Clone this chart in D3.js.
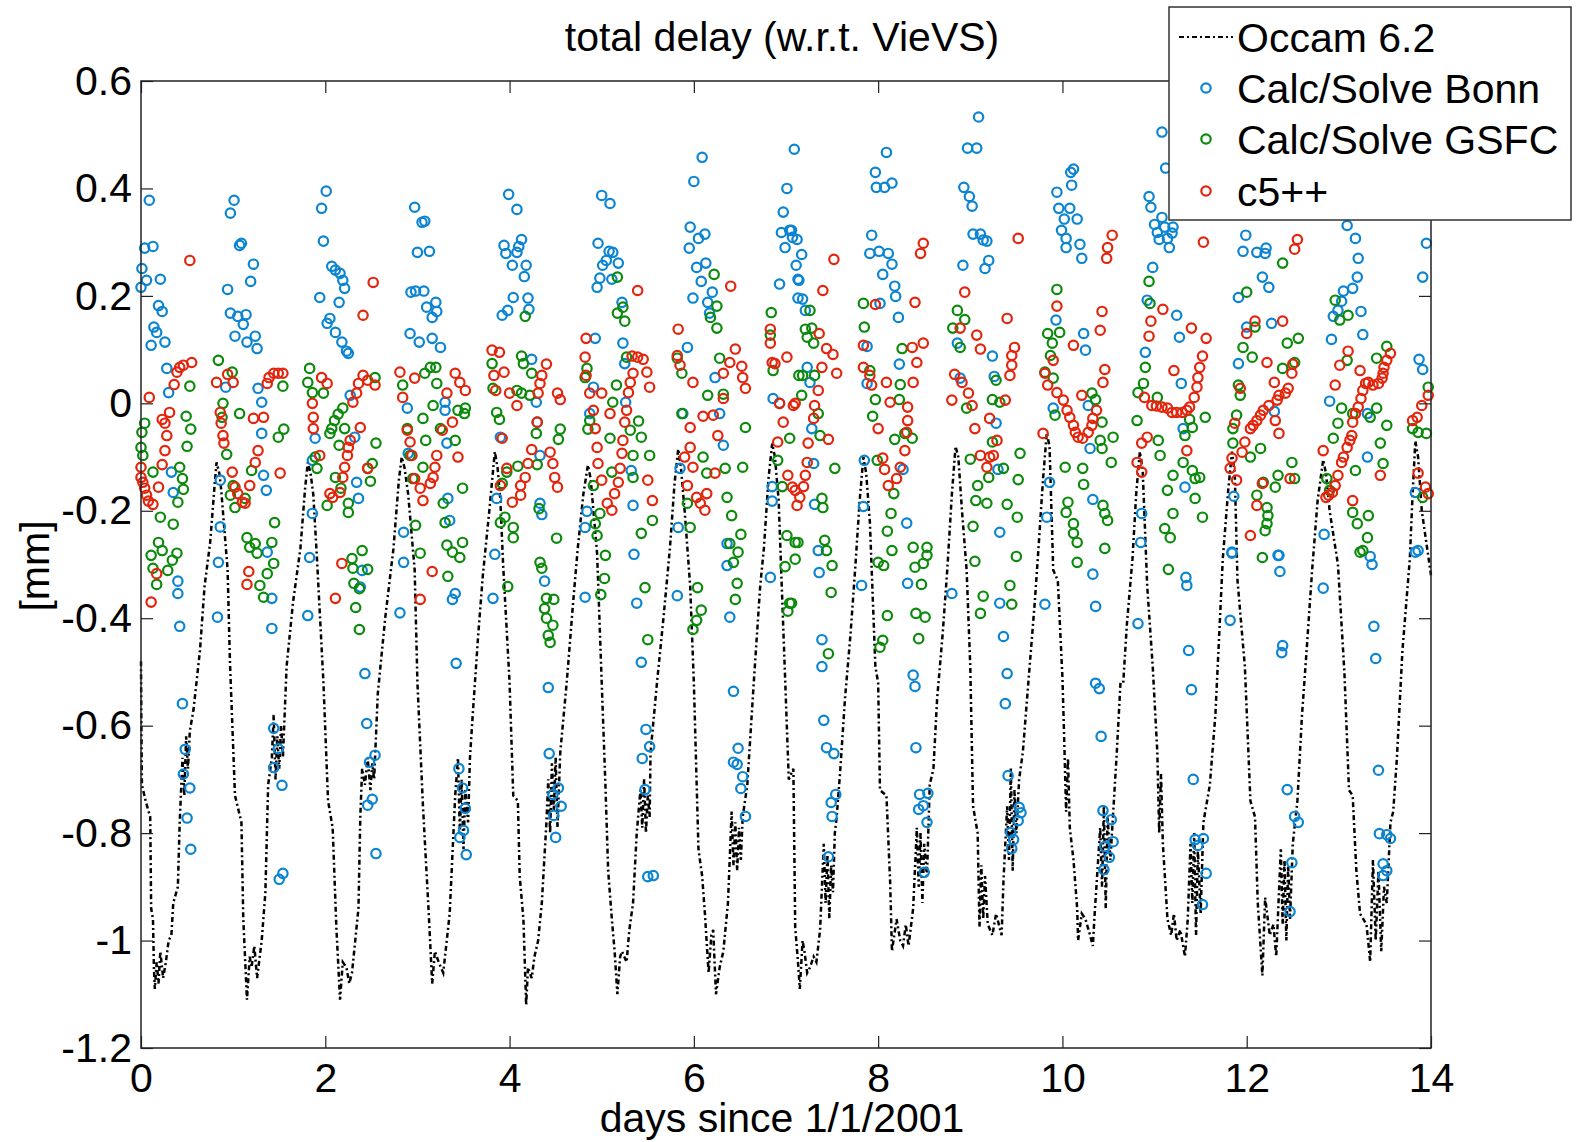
<!DOCTYPE html>
<html>
<head>
<meta charset="utf-8">
<script src="https://cdn.jsdelivr.net/npm/d3@7"></script>
<style>
  body { margin: 0; background: #fff; }
  text { font-family: "Liberation Sans", Arial, sans-serif; fill: #000; }
</style>
</head>
<body>
<div id="chart"></div>
<script>
// Occam 6.2 difference, [days since 1/1/2001, mm]
const occam = [
  [0,-0.48],[0.005,-0.62],[0.01,-0.71],[0.05,-0.74],[0.1,-0.77],[0.11,-0.94],[0.13,-0.96],[0.14,-1.05],[0.15,-1.09],[0.17,-1.04],[0.19,-1.08],[0.21,-1.02],[0.24,-1.07],[0.27,-1.04],[0.3,-1.0],[0.33,-0.99],[0.35,-0.93],[0.4,-0.9],[0.42,-0.78],[0.44,-0.70],[0.45,-0.66],[0.47,-0.73],[0.49,-0.62],[0.51,-0.68],[0.53,-0.61],[0.55,-0.59],[0.57,-0.57],[0.64,-0.46],[0.69,-0.34],[0.75,-0.26],[0.8,-0.15],[0.82,-0.11],[0.85,-0.13],[0.87,-0.16],
  [0.94,-0.31],[0.965,-0.48],[1.02,-0.73],[1.09,-0.78],[1.11,-0.96],[1.15,-1.11],[1.18,-1.03],[1.2,-1.05],[1.23,-1.01],[1.26,-1.07],[1.31,-1.0],[1.35,-0.91],[1.38,-0.71],[1.42,-0.66],[1.44,-0.58],[1.46,-0.70],[1.48,-0.62],[1.5,-0.68],[1.52,-0.60],[1.54,-0.66],[1.58,-0.49],[1.65,-0.37],[1.73,-0.27],[1.78,-0.16],[1.81,-0.11],[1.84,-0.13],[1.87,-0.17],
  [1.91,-0.29],[1.98,-0.52],[2.03,-0.74],[2.08,-0.79],[2.12,-0.975],[2.16,-1.11],[2.19,-1.04],[2.23,-1.05],[2.26,-1.08],[2.29,-1.06],[2.36,-0.94],[2.38,-0.77],[2.4,-0.68],[2.43,-0.71],[2.46,-0.66],[2.49,-0.72],[2.51,-0.67],[2.53,-0.70],[2.57,-0.54],[2.65,-0.40],[2.74,-0.27],[2.8,-0.14],[2.83,-0.10],[2.86,-0.12],[2.9,-0.17],
  [2.97,-0.31],[3.0,-0.52],[3.06,-0.75],[3.12,-0.94],[3.16,-1.08],[3.19,-1.02],[3.23,-1.04],[3.28,-1.06],[3.35,-0.95],[3.41,-0.73],[3.44,-0.66],[3.46,-0.80],[3.48,-0.70],[3.5,-0.83],[3.52,-0.72],[3.55,-0.78],[3.57,-0.66],[3.6,-0.58],[3.66,-0.43],[3.71,-0.32],[3.78,-0.2],[3.84,-0.09],[3.87,-0.12],[3.9,-0.18],
  [3.93,-0.30],[4.0,-0.52],[4.04,-0.73],[4.09,-0.74],[4.11,-0.88],[4.15,-0.96],[4.18,-1.12],[4.2,-1.05],[4.24,-1.07],[4.27,-1.03],[4.31,-1.0],[4.35,-0.93],[4.4,-0.78],[4.42,-0.70],[4.44,-0.80],[4.46,-0.67],[4.48,-0.76],[4.5,-0.66],[4.52,-0.79],[4.55,-0.65],[4.62,-0.52],[4.69,-0.37],[4.74,-0.27],[4.8,-0.17],[4.85,-0.115],[4.88,-0.14],[4.91,-0.2],
  [4.95,-0.28],[5.0,-0.52],[5.04,-0.71],[5.07,-0.87],[5.11,-0.96],[5.14,-1.02],[5.17,-1.10],[5.2,-1.03],[5.22,-1.02],[5.27,-1.04],[5.3,-0.98],[5.34,-0.93],[5.38,-0.80],[5.42,-0.72],[5.44,-0.79],[5.46,-0.70],[5.48,-0.80],[5.5,-0.73],[5.52,-0.77],[5.53,-0.65],[5.6,-0.52],[5.67,-0.40],[5.74,-0.27],[5.79,-0.15],[5.83,-0.085],[5.86,-0.12],[5.9,-0.2],
  [5.96,-0.34],[6.0,-0.52],[6.05,-0.83],[6.09,-0.88],[6.12,-0.95],[6.16,-1.06],[6.19,-0.99],[6.21,-0.98],[6.24,-1.10],[6.28,-1.05],[6.32,-1.02],[6.37,-0.93],[6.41,-0.76],[6.43,-0.86],[6.45,-0.78],[6.47,-0.87],[6.49,-0.79],[6.51,-0.85],[6.53,-0.77],[6.58,-0.71],[6.65,-0.52],[6.72,-0.34],[6.76,-0.27],[6.81,-0.14],[6.85,-0.075],[6.88,-0.1],[6.92,-0.18],
  [6.99,-0.51],[7.03,-0.70],[7.08,-0.68],[7.1,-0.975],[7.13,-1.04],[7.15,-1.09],[7.18,-1.0],[7.2,-1.02],[7.23,-1.06],[7.26,-1.05],[7.3,-1.03],[7.33,-1.04],[7.37,-0.98],[7.41,-0.82],[7.43,-0.93],[7.45,-0.84],[7.47,-0.96],[7.49,-0.86],[7.51,-0.91],[7.53,-0.80],[7.55,-0.77],[7.59,-0.68],[7.64,-0.55],[7.7,-0.43],[7.75,-0.31],[7.8,-0.18],[7.84,-0.10],[7.87,-0.13],[7.91,-0.22],
  [7.97,-0.49],[8.0,-0.52],[8.02,-0.72],[8.09,-0.73],[8.13,-0.89],[8.15,-1.02],[8.2,-0.96],[8.24,-1.0],[8.27,-1.01],[8.3,-0.97],[8.33,-1.01],[8.38,-0.94],[8.42,-0.79],[8.44,-0.90],[8.46,-0.80],[8.48,-0.93],[8.5,-0.82],[8.53,-0.88],[8.56,-0.71],[8.6,-0.68],[8.64,-0.55],[8.7,-0.43],[8.75,-0.31],[8.8,-0.17],[8.84,-0.08],[8.87,-0.1],[8.91,-0.2],
  [8.96,-0.31],[9.0,-0.49],[9.03,-0.75],[9.08,-0.80],[9.1,-0.975],[9.12,-0.86],[9.14,-0.96],[9.16,-0.88],[9.19,-0.97],[9.24,-0.99],[9.28,-0.95],[9.34,-0.99],[9.36,-0.89],[9.4,-0.75],[9.42,-0.85],[9.44,-0.68],[9.46,-0.87],[9.48,-0.72],[9.5,-0.80],[9.53,-0.70],[9.57,-0.65],[9.63,-0.52],[9.7,-0.37],[9.74,-0.27],[9.79,-0.14],[9.83,-0.055],[9.86,-0.08],
  [9.9,-0.31],[9.95,-0.33],[10.0,-0.51],[10.02,-0.63],[10.04,-0.76],[10.06,-0.66],[10.08,-0.79],[10.12,-0.85],[10.16,-0.94],[10.17,-1.0],[10.21,-0.95],[10.25,-0.96],[10.3,-0.99],[10.33,-1.01],[10.35,-0.95],[10.41,-0.79],[10.43,-0.90],[10.45,-0.75],[10.47,-0.94],[10.49,-0.77],[10.52,-0.85],[10.59,-0.65],[10.63,-0.52],[10.66,-0.52],[10.7,-0.41],[10.76,-0.29],[10.8,-0.17],[10.84,-0.09],[10.87,-0.12],
  [10.92,-0.34],[10.98,-0.49],[11.03,-0.65],[11.05,-0.80],[11.07,-0.69],[11.09,-0.82],[11.14,-0.96],[11.18,-0.99],[11.21,-0.95],[11.24,-1.0],[11.28,-0.98],[11.33,-1.03],[11.36,-0.96],[11.39,-0.82],[11.41,-0.93],[11.43,-0.80],[11.45,-0.99],[11.47,-0.83],[11.5,-0.95],[11.53,-0.78],[11.6,-0.71],[11.66,-0.58],[11.71,-0.40],[11.74,-0.29],[11.8,-0.16],[11.84,-0.09],[11.87,-0.13],
  [11.9,-0.33],[11.98,-0.49],[12.04,-0.74],[12.09,-0.77],[12.12,-0.93],[12.17,-1.065],[12.2,-0.92],[12.25,-0.99],[12.29,-0.97],[12.32,-1.03],[12.37,-0.83],[12.39,-0.97],[12.41,-0.85],[12.43,-1.0],[12.45,-0.86],[12.47,-0.96],[12.5,-0.82],[12.55,-0.74],[12.6,-0.58],[12.65,-0.46],[12.71,-0.31],[12.77,-0.18],[12.83,-0.105],[12.86,-0.13],[12.9,-0.2],
  [12.99,-0.30],[13.06,-0.50],[13.11,-0.72],[13.15,-0.73],[13.19,-0.87],[13.23,-0.95],[13.3,-0.97],[13.34,-1.04],[13.37,-0.85],[13.4,-1.0],[13.43,-0.87],[13.46,-1.02],[13.49,-0.90],[13.52,-0.93],[13.56,-0.78],[13.59,-0.76],[13.63,-0.66],[13.69,-0.46],[13.77,-0.29],[13.8,-0.17],[13.83,-0.07],[13.86,-0.1],[13.9,-0.2],[14.0,-0.32]
];

// Calc/Solve Bonn
const bonn = [
  [0.09,0.378],[0.04,0.289],[0.13,0.292],[0.01,0.251],[0.06,0.229],[0.0,0.216],[0.21,0.231],[0.19,0.182],[0.23,0.171],[0.14,0.142],[0.17,0.132],[0.11,0.108],[0.26,0.114],[0.28,0.065],[0.30,0.02],[0.33,-0.128],[0.35,-0.166],
  [1.01,0.378],[0.97,0.354],[1.07,0.294],[1.09,0.298],[1.22,0.259],[1.19,0.227],[0.94,0.212],[0.97,0.168],[1.05,0.162],[1.14,0.165],[1.11,0.147],[1.02,0.125],[1.24,0.125],[1.15,0.114],[1.26,0.102],[0.92,0.03],[1.27,0.028],[1.31,0.002],[1.31,-0.056],[1.33,-0.134],[1.36,-0.162],[0.86,-0.143],
  [2.01,0.395],[1.96,0.363],[1.98,0.302],[2.07,0.255],[2.11,0.248],[2.16,0.242],[2.19,0.229],[2.21,0.214],[1.94,0.197],[2.15,0.188],[2.05,0.158],[2.02,0.149],[2.11,0.132],[2.18,0.114],[2.23,0.097],[2.25,0.093],[2.27,0.015],[2.32,-0.063],[2.34,-0.147],[2.36,-0.177],[1.86,-0.205],[1.89,-0.065],[1.86,-0.106],
  [2.97,0.365],[3.05,0.337],[3.08,0.339],[3.0,0.281],[3.13,0.283],[2.93,0.207],[2.98,0.209],[3.07,0.209],[3.2,0.188],[3.1,0.179],[3.21,0.171],[3.16,0.16],[2.92,0.13],[3.02,0.114],[3.16,0.121],[3.25,0.104],[2.90,-0.093],[2.89,-0.009],[3.30,0.002],[3.30,-0.013],[3.32,-0.074],[3.33,-0.177],[3.35,-0.218],[0.86,-0.23],[2.85,-0.24],
  [0.84,-0.296],[0.83,-0.398],[0.42,-0.415],[0.40,-0.331],[0.40,-0.354],[0.45,-0.559],[0.48,-0.644],[0.46,-0.69],[0.53,-0.716],[0.50,-0.772],[0.54,-0.83],
  [1.42,-0.363],[1.42,-0.419],[1.37,-0.277],[1.44,-0.605],[1.49,-0.643],[1.44,-0.678],[1.53,-0.711],[1.50,-0.886],[1.54,-0.875],[1.83,-0.287],[1.81,-0.395],
  [2.43,-0.503],[2.38,-0.342],[2.45,-0.596],[2.54,-0.655],[2.48,-0.668],[2.51,-0.737],[2.46,-0.748],[2.55,-0.838],[2.85,-0.296],[2.81,-0.39],[2.40,-0.311],
  [3.41,-0.354],[3.38,-0.365],[3.42,-0.484],[3.45,-0.68],[3.49,-0.716],[3.52,-0.754],[3.5,-0.795],[3.46,-0.808],[3.53,-0.84],
  [3.99,0.389],[4.08,0.361],[4.13,0.305],[3.94,0.294],[4.10,0.292],[3.96,0.279],[4.08,0.281],[4.03,0.257],[4.18,0.257],[4.16,0.236],[4.04,0.197],[4.20,0.196],[3.98,0.173],[3.92,0.164],[4.21,0.175],[4.24,0.082],[4.29,0.002],[4.30,-0.035],[3.90,-0.063],[4.33,-0.097],[3.86,-0.177],[4.33,-0.186],[4.35,-0.207],
  [5.00,0.387],[5.09,0.372],[4.96,0.298],[5.08,0.283],[5.12,0.281],[5.05,0.266],[5.18,0.261],[5.01,0.257],[5.11,0.231],[4.98,0.233],[4.95,0.216],[5.22,0.188],[5.23,0.112],[5.25,0.074],[4.93,0.121],[5.26,0.002],[4.91,0.03],[4.87,-0.019],[5.32,-0.125],[5.34,-0.19],[4.84,-0.201],[4.82,-0.231],
  [6.09,0.458],[6.00,0.413],[5.96,0.328],[6.12,0.315],[6.05,0.307],[5.95,0.289],[6.13,0.261],[6.03,0.253],[6.08,0.227],[6.20,0.207],[5.99,0.196],[6.15,0.188],[6.17,0.168],[5.93,0.104],[6.23,0.048],[5.88,-0.019],[6.28,-0.019],[6.32,-0.078],[5.85,-0.121],[5.83,-0.231],[6.36,-0.261],
  [7.09,0.473],[7.01,0.40],[6.97,0.356],[6.95,0.318],[7.04,0.322],[7.07,0.309],[6.99,0.29],[7.11,0.257],[7.13,0.231],[6.93,0.222],[7.13,0.196],[6.86,0.009],[6.93,0.0],[6.85,-0.155],[6.85,-0.182],
  [3.84,-0.281],[3.82,-0.363],[4.38,-0.331],[4.42,-0.529],[4.43,-0.652],[4.53,-0.716],[4.47,-0.728],[4.56,-0.75],[4.48,-0.767],[4.50,-0.808],[4.82,-0.361],[5.35,-0.281],[5.38,-0.372],[5.43,-0.482],[5.48,-0.607],[5.52,-0.639],[5.44,-0.661],[5.47,-0.719],[5.50,-0.881],[5.56,-0.879],[5.82,-0.358],[6.36,-0.302],[6.39,-0.398],[6.43,-0.536],[6.48,-0.642],[6.43,-0.668],[6.47,-0.672],[6.53,-0.695],[6.51,-0.717],[6.56,-0.769],[6.83,-0.324],
  [8.09,0.467],[7.97,0.43],[7.98,0.402],[8.07,0.402],[8.15,0.41],[7.93,0.313],[7.91,0.279],[8.01,0.283],[8.11,0.279],[8.15,0.259],[8.05,0.24],[8.18,0.218],[8.19,0.199],[8.02,0.186],[8.22,0.16],[7.06,0.322],[7.12,0.305],[7.17,0.277],[7.14,0.229],[7.18,0.194],[7.21,0.173],[7.23,0.067],[7.26,0.039],[7.28,-0.047],[7.30,-0.112],[7.31,-0.188],[7.88,0.106],[7.88,0.037],[8.23,0.073],[8.27,-0.123],[7.85,-0.106],[7.84,-0.192],[8.31,-0.223],
  [9.09,0.533],[8.97,0.475],[9.07,0.475],[8.93,0.402],[8.99,0.385],[9.02,0.367],[9.03,0.315],[9.11,0.315],[9.14,0.304],[9.18,0.302],[9.20,0.266],[8.92,0.257],[9.16,0.251],[9.24,0.088],[9.26,0.05],[8.89,0.047],[9.28,-0.037],[9.30,-0.123],[9.32,-0.24],[8.86,0.112],
  [10.12,0.436],[10.09,0.43],[10.10,0.406],[9.94,0.393],[9.96,0.363],[10.08,0.363],[10.02,0.343],[10.16,0.343],[9.99,0.322],[10.04,0.307],[10.04,0.29],[10.19,0.296],[10.21,0.27],[9.93,0.155],[10.23,0.13],[10.25,0.099],[9.90,-0.009],[10.28,-0.004],[10.30,-0.084],[9.86,-0.147],[10.33,-0.179],[9.83,-0.212],
  [7.35,-0.274],[7.36,-0.315],[7.82,-0.339],[7.39,-0.44],[7.39,-0.49],[7.41,-0.59],[7.44,-0.641],[7.52,-0.652],[7.54,-0.728],[7.49,-0.743],[7.50,-0.769],[7.46,-0.844],[8.32,-0.335],[8.80,-0.354],[8.38,-0.506],[8.40,-0.527],[8.41,-0.641],[8.45,-0.728],[8.54,-0.726],[8.49,-0.749],[8.44,-0.756],[8.53,-0.78],[8.50,-0.873],
  [9.32,-0.372],[9.36,-0.434],[9.40,-0.503],[9.38,-0.559],[9.41,-0.693],[9.53,-0.752],[9.55,-0.762],[9.52,-0.777],[9.44,-0.799],[9.47,-0.812],[9.45,-0.829],[9.81,-0.374],[10.33,-0.318],[10.36,-0.378],[10.36,-0.521],[10.40,-0.531],[10.42,-0.62],[10.44,-0.758],[10.53,-0.775],[10.55,-0.816],[10.46,-0.825],[10.51,-0.845],[10.45,-0.868],
  [11.08,0.505],[11.12,0.438],[10.94,0.385],[10.96,0.365],[11.08,0.346],[11.0,0.333],[11.11,0.328],[11.20,0.328],[11.03,0.318],[11.19,0.317],[11.05,0.305],[11.14,0.307],[11.16,0.29],[10.98,0.253],[10.92,0.192],[11.24,0.164],[11.27,0.123],[10.90,0.095],[11.29,0.037],[11.31,-0.047],[11.33,-0.156],[10.86,-0.205],[10.85,-0.259],
  [11.99,0.313],[11.96,0.283],[12.11,0.281],[12.21,0.289],[12.20,0.279],[12.17,0.235],[12.24,0.216],[11.91,0.197],[12.27,0.149],[11.91,0.074],[12.00,0.142],[12.30,-0.015],[11.86,-0.173],[11.84,-0.277],[12.35,-0.283],
  [13.09,0.331],[13.18,0.307],[13.21,0.27],[13.20,0.235],[13.15,0.214],[13.05,0.209],[13.03,0.19],[12.99,0.173],[12.94,0.162],[13.24,0.171],[12.92,0.119],[13.26,0.128],[12.90,0.004],[13.31,-0.019],[13.31,-0.1],[12.84,-0.244],[13.95,0.298],[13.91,0.235],[13.87,0.082],[13.91,0.063],[13.83,-0.166],[13.86,-0.274],
  [10.82,-0.41],[11.34,-0.324],[11.35,-0.339],[11.37,-0.46],[11.40,-0.533],[11.42,-0.70],[11.44,-0.812],[11.53,-0.81],[11.47,-0.823],[11.56,-0.875],[11.52,-0.933],[11.82,-0.404],[11.84,-0.279],[12.34,-0.283],[12.36,-0.313],[12.39,-0.451],[12.38,-0.464],[12.44,-0.719],[12.52,-0.769],[12.56,-0.78],[12.49,-0.855],[12.47,-0.946],[12.83,-0.344],
  [13.34,-0.285],[13.36,-0.30],[13.38,-0.415],[13.40,-0.475],[13.43,-0.683],[13.44,-0.801],[13.52,-0.803],[13.56,-0.81],[13.48,-0.857],[13.52,-0.87],[13.48,-0.879],[13.83,-0.277]
];

// Calc/Solve GSFC
const gsfc = [
  [0.84,0.08],[0.53,0.032],[0.99,0.058],[0.04,-0.037],[0.01,-0.054],[0.0,-0.082],[0.02,-0.097],[0.49,-0.024],[0.54,-0.048],[0.50,-0.08],[0.42,-0.119],[0.13,-0.128],[0.45,-0.14],[0.46,-0.16],[0.40,-0.184],[0.21,-0.212],[0.35,-0.225],[0.19,-0.259],[0.11,-0.283],[0.39,-0.279],[0.23,-0.274],[0.89,0.0],[0.88,-0.026],[1.07,-0.019],[0.93,-0.095],
  [1.54,0.032],[1.55,-0.048],[1.49,-0.063],[1.20,-0.125],[1.00,-0.153],[0.97,-0.171],[1.02,-0.194],[1.13,-0.177],[1.45,-0.222],[1.15,-0.25],[1.24,-0.261],[1.18,-0.268],[1.42,-0.259],[1.26,-0.279],
  [1.83,0.065],[1.81,0.039],[1.86,0.02],[1.98,0.019],[2.54,0.048],[2.19,-0.009],[2.14,-0.02],[2.10,-0.032],[2.07,-0.047],[2.21,-0.047],[2.05,-0.056],[2.15,-0.078],[2.55,-0.074],[1.89,-0.1],[1.91,-0.121],[2.51,-0.112],[2.46,-0.121],[2.11,-0.138],[2.49,-0.145],[2.17,-0.158],[2.02,-0.19],[2.25,-0.186],[2.25,-0.203],[2.40,-0.274],[2.29,-0.289],
  [3.14,0.067],[3.20,0.067],[3.08,0.056],[3.21,0.037],[2.84,0.034],[3.17,-0.004],[3.06,-0.028],[2.89,-0.047],[3.51,-0.019],[3.44,-0.013],[3.25,-0.047],[3.09,-0.069],[3.41,-0.069],[2.92,-0.097],[3.06,-0.119],[2.95,-0.14],[3.49,-0.158],[3.28,-0.186],[2.98,-0.227],[3.30,-0.222],[3.03,-0.279],[3.32,-0.264],[3.38,-0.277],[3.49,-0.259],
  [0.13,-0.307],[0.34,-0.292],[0.29,-0.311],[0.17,-0.337],[1.37,-0.317],[1.29,-0.339],[1.33,-0.361],[1.44,-0.298],[2.30,-0.307],[2.46,-0.309],[2.31,-0.335],[2.37,-0.345],[2.33,-0.38],[2.37,-0.421],[3.33,-0.322],[3.46,-0.287],
  [3.52,-0.009],[4.13,0.088],[4.15,0.074],[3.81,0.074],[4.24,0.056],[3.82,0.028],[4.08,0.024],[4.13,0.019],[4.22,0.015],[4.17,0.162],[3.86,-0.017],[3.89,-0.03],[4.29,-0.056],[4.55,-0.048],[4.53,-0.067],[4.30,-0.114],[4.09,-0.117],[3.97,-0.128],[3.92,-0.149],[4.32,-0.196],[3.95,-0.212],[3.90,-0.222],[4.04,-0.231],[4.04,-0.25],[4.51,-0.251],
  [5.17,0.235],[5.23,0.179],[5.17,0.168],[5.25,0.153],[5.27,0.086],[4.84,0.065],[4.82,0.048],[5.16,0.034],[5.12,0.002],[4.87,-0.032],[4.85,-0.048],[5.40,-0.033],[5.31,-0.05],[5.43,-0.063],[5.09,-0.065],[5.34,-0.097],[5.52,-0.097],[5.11,-0.128],[5.34,-0.138],[4.91,-0.153],[5.55,-0.218],[4.93,-0.224],[4.98,-0.205],[5.43,-0.242],[4.95,-0.246],[5.04,-0.283],
  [6.22,0.24],[6.25,0.181],[6.18,0.16],[6.25,0.14],[6.28,0.084],[5.82,0.084],[5.87,0.056],[6.15,0.015],[6.32,0.017],[5.87,-0.019],[6.56,-0.045],[6.10,-0.1],[6.34,-0.121],[6.53,-0.119],[6.14,-0.13],[5.93,-0.186],[6.36,-0.175],[5.96,-0.231],[6.41,-0.209],[6.51,-0.244],[6.39,-0.261],[6.48,-0.277],
  [6.84,0.169],[6.83,0.127],[6.86,0.061],[7.14,0.052],[6.91,-0.106],[6.96,-0.155],[7.01,-0.246],[7.10,-0.259],
  [4.33,-0.296],[4.35,-0.307],[3.98,-0.341],[4.40,-0.363],[4.48,-0.365],[4.38,-0.382],[4.40,-0.40],[4.47,-0.413],[4.42,-0.432],[4.44,-0.445],[5.03,-0.326],[4.99,-0.356],[5.47,-0.343],[5.50,-0.44],[6.04,-0.343],[6.08,-0.385],[6.03,-0.404],[5.99,-0.421],[6.43,-0.296],[6.47,-0.335],[6.45,-0.365],[6.99,-0.304],[7.04,-0.372],[7.02,-0.387],
  [7.26,0.173],[7.21,0.138],[7.28,0.14],[7.23,0.123],[7.30,0.112],[7.18,0.052],[7.31,0.052],[7.17,0.015],[7.35,-0.019],[7.37,-0.06],[7.53,-0.121],[7.04,-0.065],[7.39,-0.177],[7.40,-0.194],[7.13,-0.259],[7.42,-0.255],[7.44,-0.274],
  [7.84,0.186],[7.85,0.142],[7.91,0.061],[7.97,0.007],[7.94,-0.024],[8.26,0.102],[8.24,0.035],[8.23,0.007],[8.29,-0.056],[8.18,-0.067],[8.37,-0.065],[7.99,-0.106],[8.17,-0.168],[8.14,-0.205],[8.10,-0.238],[8.15,-0.274],[8.38,-0.268],[8.53,-0.268],
  [8.86,0.173],[8.94,0.156],[8.81,0.14],[8.89,0.104],[9.28,0.043],[8.96,-0.009],[9.24,0.007],[9.32,0.002],[9.00,-0.104],[9.24,-0.072],[9.54,-0.093],[9.08,-0.153],[9.20,-0.138],[9.36,-0.121],[9.52,-0.142],[9.06,-0.181],[9.18,-0.186],[9.40,-0.188],[9.03,-0.229],[9.51,-0.212],
  [9.94,0.212],[9.84,0.13],[9.97,0.132],[9.89,0.112],[9.87,0.089],[9.81,0.058],[9.90,0.047],[10.32,0.019],[10.36,0.007],[9.92,-0.022],[10.43,-0.035],[10.55,-0.063],[10.41,-0.069],[10.43,-0.084],[10.53,-0.11],[10.03,-0.119],[10.22,-0.121],[10.23,-0.151],[10.06,-0.184],[10.04,-0.203],[10.44,-0.19],[10.46,-0.205],[10.49,-0.218],[10.12,-0.224],[10.12,-0.242],[10.16,-0.259],[10.46,-0.27],
  [7.10,-0.29],[7.50,-0.302],[7.49,-0.352],[7.06,-0.372],[7.46,-0.466],[8.00,-0.296],[8.06,-0.302],[8.10,-0.395],[8.05,-0.441],[8.02,-0.454],[8.40,-0.305],[8.49,-0.298],[8.53,-0.283],[8.47,-0.337],[8.41,-0.391],[8.51,-0.398],[8.44,-0.438],[9.05,-0.294],[9.14,-0.359],[9.11,-0.391],[9.50,-0.285],[9.43,-0.339],[9.45,-0.374],[10.16,-0.296],
  [10.94,0.227],[10.95,0.186],[10.90,0.067],[10.88,0.037],[10.82,0.02],[11.03,0.011],[10.81,-0.032],[11.38,-0.03],[11.55,-0.026],[11.41,-0.045],[11.33,-0.06],[11.04,-0.069],[11.06,-0.097],[11.31,-0.11],[11.41,-0.125],[11.20,-0.134],[11.44,-0.14],[11.49,-0.138],[11.14,-0.162],[11.44,-0.177],[11.52,-0.212],[11.20,-0.205],[11.11,-0.233],[11.17,-0.25],
  [12.39,0.261],[12.00,0.207],[12.09,0.142],[11.96,0.104],[12.06,0.086],[12.56,0.121],[12.44,0.112],[12.52,0.076],[12.39,0.065],[11.91,0.034],[11.93,0.015],[11.89,-0.022],[11.85,-0.047],[11.85,-0.074],[12.15,-0.084],[12.04,-0.1],[12.49,-0.11],[12.34,-0.134],[12.52,-0.14],[12.31,-0.156],[12.18,-0.147],[12.11,-0.171],[12.22,-0.194],[12.23,-0.209],[12.22,-0.224],[12.20,-0.237],
  [12.96,0.192],[13.10,0.164],[13.01,0.155],[13.52,0.106],[13.41,0.084],[13.09,0.08],[13.03,-0.009],[13.15,-0.019],[13.34,-0.026],[13.41,-0.009],[13.52,-0.041],[12.99,-0.037],[12.94,-0.065],[13.45,-0.074],[13.18,-0.125],[13.48,-0.112],[12.87,-0.14],[12.90,-0.162],[13.15,-0.203],[13.32,-0.209],[13.20,-0.224],[13.31,-0.25],[13.26,-0.274],[13.97,0.03],[13.80,-0.047],[13.86,-0.054],[13.95,-0.056],[13.91,-0.175],
  [11.15,-0.309],[12.17,-0.287],[13.23,-0.277]
];

// c5++
const c5 = [
  [0.53,0.266],[0.46,0.071],[0.42,0.067],[0.39,0.058],[0.55,0.076],[0.36,0.035],[0.09,0.011],[0.31,-0.017],[0.23,-0.03],[0.26,-0.037],[0.28,-0.06],[0.26,-0.088],[0.23,-0.114],[0.0,-0.119],[0.0,-0.138],[0.02,-0.147],[0.04,-0.158],[0.06,-0.171],[0.08,-0.182],[0.13,-0.188],[0.19,-0.156],
  [0.82,0.039],[0.94,0.054],[1.00,0.039],[0.86,-0.017],[0.87,-0.037],[0.89,-0.06],[0.90,-0.074],[0.99,-0.128],[1.02,-0.156],[1.05,-0.168],[1.10,-0.184],[1.13,-0.186],[1.18,-0.153],[1.24,-0.11],[1.27,-0.088],[1.22,-0.028],[1.33,-0.026],[1.51,-0.13],[1.37,0.037],[1.39,0.048],[1.44,0.056],[1.49,0.056],[1.54,0.056],
  [2.52,0.225],[2.41,0.164],[1.96,0.048],[2.02,0.037],[1.86,0.0],[1.87,-0.026],[1.87,-0.047],[1.94,-0.097],[2.41,0.052],[2.46,0.043],[2.54,0.034],[2.36,0.037],[2.34,0.019],[2.30,0.002],[2.38,-0.045],[2.27,-0.069],[2.25,-0.082],[2.24,-0.097],[2.21,-0.119],[2.19,-0.138],[2.46,-0.121],[2.05,-0.168],[2.08,-0.175],[2.16,-0.166],
  [2.81,0.058],[2.97,0.047],[2.84,0.011],[2.89,-0.05],[2.92,-0.072],[2.94,-0.097],[2.97,-0.14],[3.03,-0.158],[3.06,-0.181],[3.14,-0.149],[3.17,-0.138],[3.19,-0.119],[3.21,-0.097],[3.27,-0.05],[3.32,0.019],[3.38,-0.035],[3.41,0.056],[3.46,0.039],[3.52,0.024],[3.44,-0.1],
  [0.17,-0.317],[0.11,-0.37],[1.17,-0.313],[1.15,-0.337],[2.18,-0.298],[2.11,-0.363],[3.16,-0.313],[3.03,-0.365],
  [5.39,0.21],[6.40,0.218],[5.83,0.138],[6.83,0.138],[6.83,0.112],[4.83,0.121],[3.81,0.099],[3.89,0.095],[4.82,0.086],[5.82,0.089],[6.85,0.076],[7.01,0.086],[4.40,0.073],[4.35,0.052],[4.33,0.037],[4.31,0.019],[3.83,0.052],[3.94,0.058],[3.85,0.024],[4.00,0.019],[4.08,-0.004],[4.52,0.019],[4.55,0.007],[4.30,-0.035],[3.92,-0.065],[4.44,-0.091],[4.24,-0.086],[4.20,-0.112],[4.47,-0.112],[3.97,-0.121],[4.17,-0.138],[4.49,-0.138],[4.12,-0.153],[3.90,-0.153],[4.52,-0.156],[4.12,-0.171],[4.03,-0.184],
  [5.33,0.088],[5.39,0.086],[5.45,0.082],[5.49,0.058],[5.34,0.056],[5.31,0.039],[5.52,0.03],[4.83,0.052],[4.87,0.019],[5.00,0.019],[5.29,0.02],[5.27,-0.013],[5.09,-0.019],[4.91,-0.013],[5.25,-0.035],[4.93,-0.047],[5.23,-0.069],[4.95,-0.082],[5.22,-0.093],[4.96,-0.112],[5.20,-0.121],[5.00,-0.143],[5.18,-0.147],[5.50,-0.143],[5.14,-0.168],[5.06,-0.186],[5.11,-0.199],[5.55,-0.181],
  [6.45,0.101],[6.52,0.069],[6.53,0.048],[6.56,0.028],[6.39,0.076],[6.32,0.056],[5.85,0.071],[5.99,0.039],[6.32,0.009],[6.10,-0.024],[6.21,-0.022],[6.26,-0.06],[5.96,-0.045],[5.96,-0.082],[5.90,-0.1],[5.99,-0.119],[5.93,-0.153],[6.23,-0.13],[6.03,-0.175],[6.14,-0.168],[6.07,-0.186],[6.12,-0.199],
  [6.88,0.074],[6.93,0.0],[7.08,-0.004],[6.97,-0.035],[6.91,-0.072],[7.02,-0.134],[7.07,-0.156],[7.10,-0.162],
  [7.52,0.268],[7.40,0.21],[8.49,0.298],[8.46,0.279],[9.52,0.307],[10.54,0.313],[10.49,0.29],[10.48,0.27],[8.94,0.207],[8.40,0.188],[7.97,0.184],[9.40,0.158],[10.43,0.171],[10.41,0.136],[9.94,0.181],[7.36,0.13],[7.44,0.102],[7.51,0.091],[7.39,0.067],[7.55,0.056],[7.35,0.024],[7.31,-0.004],[7.10,0.0],[7.30,-0.028],[7.46,-0.067],[7.24,-0.074],[7.23,-0.11],[7.21,-0.134],[7.19,-0.155],[7.15,-0.175],[7.12,-0.19],
  [7.84,0.108],[7.84,0.067],[7.91,0.052],[7.93,0.034],[8.09,0.039],[8.13,0.002],[8.32,-0.007],[8.32,-0.032],[8.31,-0.054],[8.00,-0.047],[8.29,-0.088],[8.24,-0.119],[8.05,-0.102],[8.07,-0.123],[8.20,-0.14],[8.11,-0.153],[8.37,0.104],[8.49,0.112],[8.42,0.076],[8.38,0.039],
  [9.07,0.127],[9.11,0.101],[8.89,0.14],[8.83,0.054],[8.91,0.039],[8.98,0.019],[8.80,0.006],[9.02,-0.004],[9.05,-0.047],[9.21,-0.028],[9.38,0.006],[9.48,0.104],[9.45,0.089],[9.45,0.071],[9.43,0.052],[9.11,-0.097],[9.21,-0.1],[9.25,-0.097],[9.29,-0.069],[9.18,-0.119],[9.79,-0.056],
  [9.81,0.056],[9.84,0.034],[9.90,0.08],[9.94,0.02],[10.01,0.006],[10.05,-0.013],[10.08,-0.026],[10.12,-0.041],[10.14,-0.054],[10.17,-0.063],[10.22,-0.065],[10.28,-0.054],[10.32,-0.041],[10.33,-0.028],[10.37,-0.013],[10.21,0.015],[10.46,0.063],[10.44,0.039],[10.12,0.108],
  [11.53,0.30],[12.55,0.305],[12.52,0.287],[11.09,0.175],[10.96,0.153],[10.94,0.125],[11.40,0.14],[11.56,0.121],[11.52,0.088],[11.49,0.067],[11.47,0.048],[11.46,0.03],[11.43,0.011],[11.21,0.061],[10.89,0.011],[10.97,-0.004],[11.02,-0.005],[11.08,-0.007],[11.14,-0.009],[11.19,-0.017],[11.24,-0.017],[11.30,-0.017],[11.35,-0.013],[11.38,-0.007],[10.92,-0.063],[10.86,-0.074],[10.81,-0.11],[10.86,-0.128],[11.35,-0.088],
  [12.09,0.153],[12.39,0.153],[12.00,0.13],[12.22,0.076],[12.50,0.073],[12.49,0.056],[12.30,0.039],[12.45,0.028],[12.42,0.019],[12.35,0.015],[12.33,0.006],[12.24,-0.004],[12.18,-0.013],[12.15,-0.022],[12.11,-0.032],[12.07,-0.041],[12.04,-0.047],[11.93,0.028],[11.87,-0.037],[12.31,-0.032],[12.35,-0.056],[11.98,-0.072],[11.95,-0.091],[11.84,-0.102],[11.82,-0.121],[11.89,-0.143],[12.17,-0.149],[12.47,-0.14],[12.11,-0.19],[12.04,-0.246],
  [13.10,0.097],[13.01,0.071],[12.96,0.034],[13.23,0.061],[13.56,0.093],[13.52,0.08],[13.49,0.067],[13.48,0.056],[13.47,0.047],[13.43,0.037],[13.37,0.034],[13.32,0.039],[13.29,0.037],[13.26,0.024],[13.24,0.009],[13.21,-0.007],[13.18,-0.019],[13.15,-0.035],[13.14,-0.06],[13.12,-0.069],[13.09,-0.082],[13.05,-0.1],[13.03,-0.11],[12.99,-0.134],[12.96,-0.153],[12.93,-0.166],[12.89,-0.171],[12.86,-0.175],[12.83,-0.088],[13.15,-0.181],[13.45,-0.134],
  [13.97,0.015],[13.90,-0.004],[13.85,-0.026],[13.80,-0.032],[13.86,-0.13],[13.94,-0.156],[13.97,-0.168]
];

const xTicks = [0, 2, 4, 6, 8, 10, 12, 14];
const yTicks = [0.6, 0.4, 0.2, 0, -0.2, -0.4, -0.6, -0.8, -1, -1.2];
const yTickLabels = ["0.6", "0.4", "0.2", "0", "-0.2", "-0.4", "-0.6", "-0.8", "-1", "-1.2"];
const seriesNames = ["Occam 6.2", "Calc/Solve Bonn", "Calc/Solve GSFC", "c5++"];
const seriesColors = ["#000", "#0b84d2", "#0c8a0c", "#e2250c"];

const width = 1576, height = 1142;
const margin = ({top: 81, right: 145, bottom: 94, left: 141});

const x = d3.scaleLinear()
    .domain([0, 14])
    .range([margin.left, width - margin.right]);
const y = d3.scaleLinear()
    .domain([-1.2, 0.6])
    .range([height - margin.bottom, margin.top]);

const tickLen = 12;
const dash = "5,3,2,3";

document.addEventListener("DOMContentLoaded", function() {

  let svg = d3.select("#chart").append("svg").attr("width", width).attr("height", height);

  // Occam line first, markers on top
  const line = d3.line().x(d => x(d[0])).y(d => y(d[1]));
  svg.append("path")
    .datum(occam)
    .attr("d", line)
    .attr("fill", "none")
    .attr("stroke", "#000")
    .attr("stroke-width", 2.5)
    .attr("stroke-dasharray", dash);

  [bonn, gsfc, c5].forEach((s, i) => {
    svg.append("g")
      .selectAll("circle")
      .data(s)
      .enter().append("circle")
      .attr("cx", d => x(d[0]))
      .attr("cy", d => y(d[1]))
      .attr("r", 4.7)
      .attr("fill", "none")
      .attr("stroke", seriesColors[i + 1])
      .attr("stroke-width", 2.2);
  });

  // axes, MATLAB style: ticks inside on all four sides
  const styleAxis = g => {
    g.select(".domain").remove();
    g.selectAll(".tick line").attr("stroke", "#222").attr("stroke-width", 1.2);
    g.selectAll("text").attr("font-size", 41).attr("font-family", "Liberation Sans, Arial, sans-serif").attr("fill", "#000");
  };

  svg.append("g")
    .attr("transform", `translate(0,${height - margin.bottom})`)
    .call(d3.axisBottom(x).tickValues(xTicks).tickFormat(d3.format("d")).tickSize(-tickLen).tickPadding(15))
    .call(styleAxis);
  svg.append("g")
    .attr("transform", `translate(0,${margin.top})`)
    .call(d3.axisTop(x).tickValues(xTicks).tickFormat("").tickSize(-tickLen))
    .call(styleAxis);
  svg.append("g")
    .attr("transform", `translate(${margin.left},0)`)
    .call(d3.axisLeft(y).tickValues(yTicks).tickFormat((d, i) => yTickLabels[i]).tickSize(-tickLen).tickPadding(9))
    .call(styleAxis);
  svg.append("g")
    .attr("transform", `translate(${width - margin.right},0)`)
    .call(d3.axisRight(y).tickValues(yTicks).tickFormat("").tickSize(-tickLen))
    .call(styleAxis);

  svg.append("rect")
    .attr("x", margin.left).attr("y", margin.top)
    .attr("width", width - margin.left - margin.right)
    .attr("height", height - margin.top - margin.bottom)
    .attr("fill", "none").attr("stroke", "#222").attr("stroke-width", 1.5);

  // title and axis labels
  svg.append("text")
    .attr("x", 782).attr("y", 51)
    .attr("text-anchor", "middle").attr("font-size", 41)
    .text("total delay (w.r.t. VieVS)");
  svg.append("text")
    .attr("x", 782).attr("y", 1132)
    .attr("text-anchor", "middle").attr("font-size", 41)
    .text("days since 1/1/2001");
  svg.append("text")
    .attr("transform", "translate(49,566) rotate(-90)")
    .attr("text-anchor", "middle").attr("font-size", 41)
    .text("[mm]");

  // legend
  let legend = svg.append("g").attr("class", "legend");
  legend.append("rect")
    .attr("x", 1169).attr("y", 7).attr("width", 402).attr("height", 213)
    .attr("fill", "#fff").attr("stroke", "#333").attr("stroke-width", 1.5);
  const rows = [37, 88, 139, 191];
  legend.append("line")
    .attr("x1", 1179).attr("x2", 1233)
    .attr("y1", rows[0]).attr("y2", rows[0])
    .attr("stroke", "#000").attr("stroke-width", 2.2).attr("stroke-dasharray", dash);
  rows.slice(1).forEach((r, i) => {
    legend.append("circle")
      .attr("cx", 1206).attr("cy", r).attr("r", 4.7)
      .attr("fill", "none").attr("stroke", seriesColors[i + 1]).attr("stroke-width", 2.2);
  });
  legend.selectAll("text")
    .data(seriesNames)
    .enter().append("text")
    .attr("x", 1237)
    .attr("y", (d, i) => rows[i] + 15)
    .attr("font-size", 41)
    .text(d => d);
});
</script>
</body>
</html>
